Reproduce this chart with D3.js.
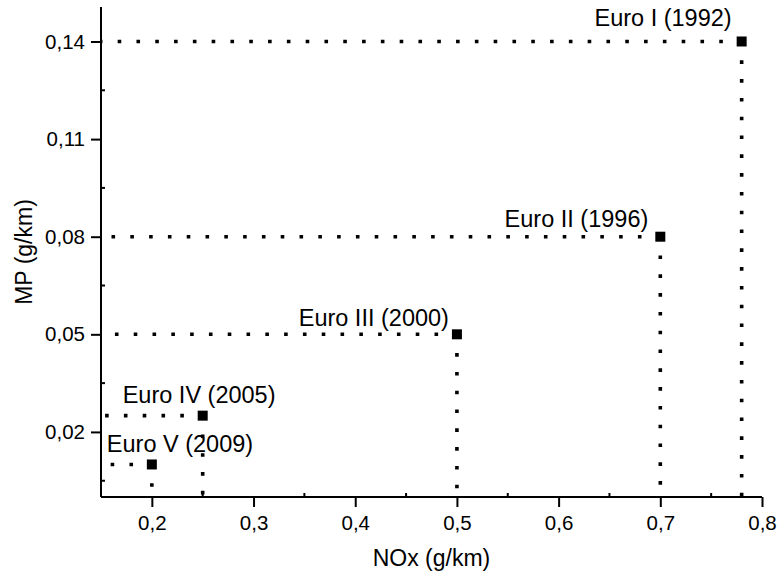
<!DOCTYPE html>
<html>
<head>
<meta charset="utf-8">
<script src="https://cdn.jsdelivr.net/npm/d3@7"></script>
<style>
  body { margin: 0; background: #fff; }
  svg { display: block; font-family: "Liberation Sans", Arial, sans-serif; }
  .axis path, .axis line { stroke: #000; stroke-width: 2; }
  .axis text { fill: #000; }
</style>
</head>
<body>
<svg id="chart" width="778" height="574"></svg>
<script>
// Euro standards: NOx vs MP limits
var names = ["Euro I", "Euro II", "Euro III", "Euro IV", "Euro V"];
var years = [1992, 1996, 2000, 2005, 2009];
var nox = [0.78, 0.70, 0.50, 0.25, 0.20];
var mp = [0.14, 0.08, 0.05, 0.025, 0.01];

var xTicks = [0.2, 0.3, 0.4, 0.5, 0.6, 0.7, 0.8];
var xMinor = [0.25, 0.35, 0.45, 0.55, 0.65, 0.75];
var yTicks = [0.02, 0.05, 0.08, 0.11, 0.14];
var yMinor = [0.005, 0.035, 0.065, 0.095, 0.125];

// label placement relative to each point (pixels)
var labelPos = [
    {dx: -10, dy: -15, anchor: "end"},
    {dx: -12, dy: -10, anchor: "end"},
    {dx: -8, dy: -8, anchor: "end"},
    {dx: -80, dy: -13, anchor: "start"},
    {dx: -45, dy: -12, anchor: "start"}
];

(function () {
    var svg = d3.select("#chart"),
        pLeft = 101, pRight = 762, pTop = 7, pBottom = 497;

    var x = d3.scaleLinear().domain([0.15, 0.8]).range([pLeft, pRight]);
    var y = d3.scaleLinear().domain([0, 0.1506]).range([pBottom, pTop]);

    var comma = function(f) {
        return function(d) { return d3.format(f)(d).replace(".", ","); };
    };

    var data = names.map(function(n, i) {
        return {name: n, year: years[i], nox: nox[i], mp: mp[i], pos: labelPos[i]};
    });

    // drop lines (drawn from point towards the axes)
    var drop = svg.append("g").attr("class", "drops");
    drop.selectAll("line.h")
        .data(data)
        .enter().append("line")
        .attr("class", "h")
        .attr("x1", function(d) { return x(d.nox); })
        .attr("x2", pLeft)
        .attr("y1", function(d) { return y(d.mp); })
        .attr("y2", function(d) { return y(d.mp); });
    drop.selectAll("line.v")
        .data(data)
        .enter().append("line")
        .attr("class", "v")
        .attr("x1", function(d) { return x(d.nox); })
        .attr("x2", function(d) { return x(d.nox); })
        .attr("y1", function(d) { return y(d.mp); })
        .attr("y2", pBottom);
    drop.selectAll("line")
        .attr("stroke", "#000")
        .attr("stroke-width", 3.6)
        .attr("stroke-dasharray", "3.6 15.2");

    // axes
    var xAxis = d3.axisBottom(x).tickValues(xTicks).tickSize(10).tickSizeOuter(0)
        .tickFormat(comma(".1f"));
    var yAxis = d3.axisLeft(y).tickValues(yTicks).tickSize(10).tickSizeOuter(0)
        .tickFormat(comma(".2f"));

    var gx = svg.append("g").attr("class", "axis")
        .attr("transform", "translate(0," + pBottom + ")")
        .call(xAxis);
    gx.selectAll("text").attr("font-size", 20.5).attr("dy", "0.98em");
    gx.select(".domain").attr("d", "M" + pLeft + ",0H" + pRight);

    var gy = svg.append("g").attr("class", "axis")
        .attr("transform", "translate(" + pLeft + ",0)")
        .call(yAxis);
    gy.selectAll("text").attr("font-size", 20.5).attr("x", -16);
    gy.select(".domain").attr("d", "M0," + pBottom + "V" + pTop);

    // minor ticks
    gx.selectAll("line.minor")
        .data(xMinor)
        .enter().append("line")
        .attr("class", "minor")
        .attr("x1", function(d) { return x(d); })
        .attr("x2", function(d) { return x(d); })
        .attr("y1", 0).attr("y2", -4);
    gy.selectAll("line.minor")
        .data(yMinor)
        .enter().append("line")
        .attr("class", "minor")
        .attr("y1", function(d) { return y(d); })
        .attr("y2", function(d) { return y(d); })
        .attr("x1", 0).attr("x2", 4);

    // points
    svg.selectAll("rect.pt")
        .data(data)
        .enter().append("rect")
        .attr("class", "pt")
        .attr("x", function(d) { return x(d.nox) - 5; })
        .attr("y", function(d) { return y(d.mp) - 5; })
        .attr("width", 10)
        .attr("height", 10)
        .attr("fill", "#000");

    // labels
    svg.selectAll("text.lab")
        .data(data)
        .enter().append("text")
        .attr("class", "lab")
        .attr("x", function(d) { return x(d.nox) + d.pos.dx; })
        .attr("y", function(d) { return y(d.mp) + d.pos.dy; })
        .attr("text-anchor", function(d) { return d.pos.anchor; })
        .attr("font-size", 23.5)
        .text(function(d) { return d.name + " (" + d.year + ")"; });

    // axis titles
    svg.append("text")
        .attr("x", (pLeft + pRight) / 2)
        .attr("y", 566)
        .attr("text-anchor", "middle")
        .attr("font-size", 23)
        .text("NOx (g/km)");

    svg.append("text")
        .attr("transform", "translate(32," + ((pTop + pBottom) / 2) + ") rotate(-90)")
        .attr("text-anchor", "middle")
        .attr("font-size", 23)
        .text("MP (g/km)");
})();
</script>
</body>
</html>
